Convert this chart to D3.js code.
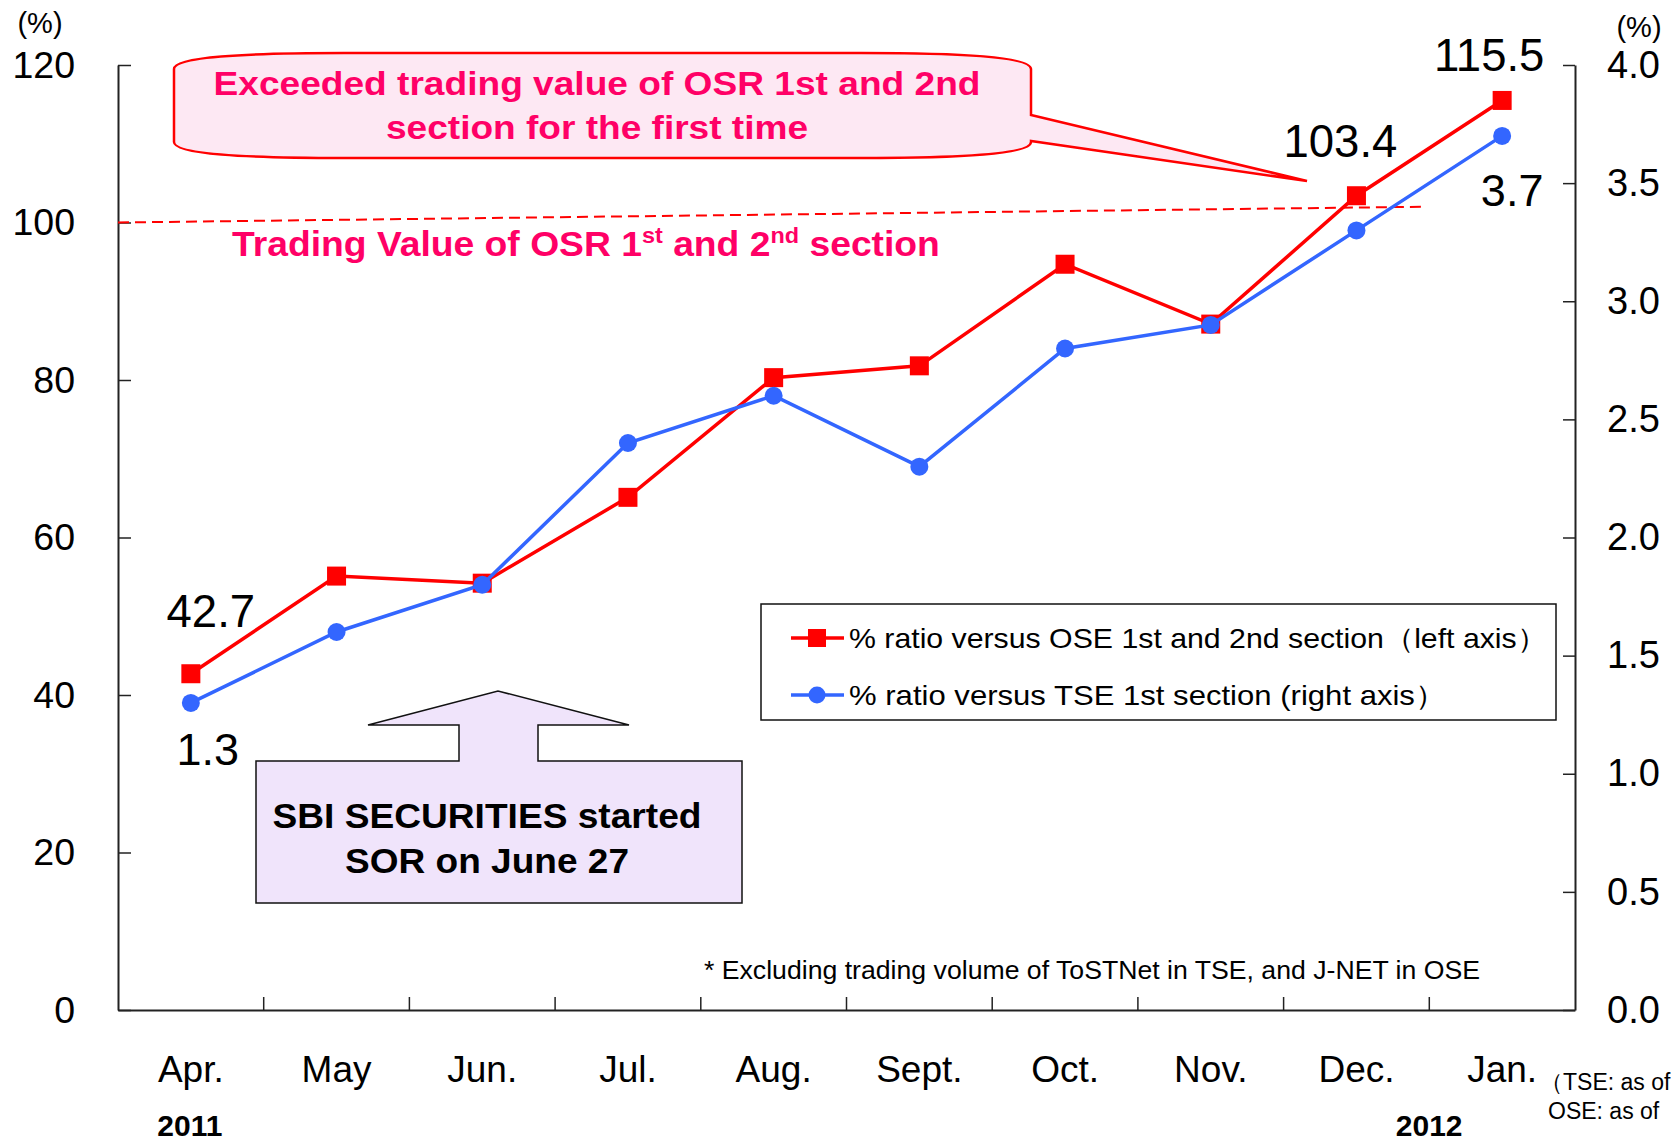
<!DOCTYPE html>
<html>
<head>
<meta charset="utf-8">
<script src="https://cdn.jsdelivr.net/npm/d3@7"></script>
<style>
  html, body { margin: 0; padding: 0; background: #fff; }
  svg { display: block; font-family: "Liberation Sans", Arial, sans-serif; }
</style>
</head>
<body>
<svg id="chart" width="1671" height="1141"></svg>
<script>
// ---------- data ----------
const months = ["Apr.", "May", "Jun.", "Jul.", "Aug.", "Sept.", "Oct.", "Nov.", "Dec.", "Jan."];
const oseRatio = [42.7, 55.1, 54.2, 65.1, 80.3, 81.8, 94.7, 87.1, 103.4, 115.5]; // left axis
const tseRatio = [1.3, 1.6, 1.8, 2.4, 2.6, 2.3, 2.8, 2.9, 3.3, 3.7];             // right axis
const leftTicks = [0, 20, 40, 60, 80, 100, 120];
const rightTicks = [0, 0.5, 1.0, 1.5, 2.0, 2.5, 3.0, 3.5, 4.0];
const oseLabelIdx = [0, 8, 9];
const tseLabelIdx = [0, 9];
const refLevel = [100, 102.0]; // dashed OSR reference line (start, end)
const seriesNames = ["% ratio versus OSE 1st and 2nd section（left axis）",
                     "% ratio versus TSE 1st section (right axis）"];
const years = ["2011", "2012"];

// ---------- layout ----------
const svg = d3.select("#chart");
const L = 118, R = 1575, T = 65, B = 1010;
const x = d3.scaleBand().domain(months).range([L, R]).padding(0);
const yL = d3.scaleLinear().domain([0, 120]).range([B, T]);
const yR = d3.scaleLinear().domain([0, 4]).range([B, T]);
const cx = d => x(d) + x.bandwidth() / 2;
const RED = "#ff0000", BLUE = "#3366ff", PINK = "#ff0066";
const FONT = "'Liberation Sans', Arial, sans-serif";

// ---------- axes ----------
const gL = svg.append("g").attr("transform", `translate(${L},0)`)
  .call(d3.axisLeft(yL).tickValues(leftTicks).tickSizeInner(-13).tickSizeOuter(0).tickPadding(43).tickFormat(d3.format("d")));
const gR = svg.append("g").attr("transform", `translate(${R},0)`)
  .call(d3.axisRight(yR).tickValues(rightTicks).tickSizeInner(-12).tickSizeOuter(0).tickPadding(32).tickFormat(d3.format(".1f")));
const gX = svg.append("g").attr("transform", `translate(0,${B})`)
  .call(d3.axisBottom(x).tickSize(0).tickPadding(46));
[gL, gR, gX].forEach(g => {
  g.selectAll(".domain").attr("stroke", "#222").attr("stroke-width", 2);
  g.selectAll(".tick line").attr("stroke", "#222").attr("stroke-width", 1.5);
  g.selectAll("text").attr("fill", "#000").style("font-family", FONT);
});
gL.selectAll("text").style("font-size", "37.5px");
gR.selectAll("text").style("font-size", "38px");
gX.selectAll("text").style("font-size", "37px");
// boundary ticks on x axis (pointing inward)
svg.append("g").selectAll("line").data(months.slice(1)).join("line")
  .attr("x1", d => x(d)).attr("x2", d => x(d))
  .attr("y1", B).attr("y2", B - 13)
  .attr("stroke", "#222").attr("stroke-width", 1.5);

// axis unit labels
svg.append("text").attr("x", 40).attr("y", 33).attr("text-anchor", "middle")
  .style("font-size", "29px").text("(%)");
svg.append("text").attr("x", 1639).attr("y", 37).attr("text-anchor", "middle")
  .style("font-size", "29px").text("(%)");

// year labels
svg.append("text").attr("x", cx(months[0]) - 1).attr("y", 1136).attr("text-anchor", "middle")
  .style("font-size", "30px").style("font-weight", "bold").text(years[0]);
svg.append("text").attr("x", cx(months[9]) - 73).attr("y", 1136).attr("text-anchor", "middle")
  .style("font-size", "30px").style("font-weight", "bold").text(years[1]);
// date note (runs past the right edge, as in the reference)
svg.append("text").attr("x", 1540).attr("y", 1090).style("font-size", "23px").text("（TSE: as of");
svg.append("text").attr("x", 1548).attr("y", 1119).style("font-size", "23px").text("OSE: as of");

// ---------- reference dashed line ----------
svg.append("line")
  .attr("x1", L).attr("y1", yL(refLevel[0]))
  .attr("x2", x(months[8]) + x.bandwidth() * 0.95).attr("y2", yL(refLevel[1]))
  .attr("stroke", RED).attr("stroke-width", 2).attr("stroke-dasharray", "11,6");

svg.append("text").attr("transform", "translate(232,256) scale(1.065,1)")
  .attr("fill", PINK).style("font-weight", "bold").style("font-size", "35px")
  .call(t => {
    t.append("tspan").text("Trading Value of OSR 1");
    t.append("tspan").attr("dy", -13).style("font-size", "22px").text("st");
    t.append("tspan").attr("dy", 13).text(" and 2");
    t.append("tspan").attr("dy", -13).style("font-size", "22px").text("nd");
    t.append("tspan").attr("dy", 13).text(" section");
  });

// ---------- callout 1 (pink) ----------
{
  const l = 174, r = 1031, t = 53, b = 158, tipX = 1307, tipY = 181;
  const p = `M${l},${t+16} C${l},${t+4} ${l+70},${t} ${l+170},${t} L${r-170},${t} C${r-70},${t} ${r},${t+4} ${r},${t+16}
             L${r},115 L${tipX},${tipY} L${r},141 L${r},${b-16}
             C${r},${b-4} ${r-70},${b} ${r-170},${b} L${l+170},${b} C${l+70},${b} ${l},${b-4} ${l},${b-16} Z`;
  svg.append("path").attr("d", p).attr("fill", "#fde8f3").attr("stroke", RED).attr("stroke-width", 2.5);
  svg.append("text").attr("x", 597).attr("y", 95).attr("text-anchor", "middle")
    .attr("fill", PINK).style("font-weight", "bold").style("font-size", "34px")
    .attr("textLength", 767).attr("lengthAdjust", "spacingAndGlyphs")
    .text("Exceeded trading value of OSR 1st and 2nd");
  svg.append("text").attr("x", 597).attr("y", 139).attr("text-anchor", "middle")
    .attr("fill", PINK).style("font-weight", "bold").style("font-size", "34px")
    .attr("textLength", 422).attr("lengthAdjust", "spacingAndGlyphs")
    .text("section for the first time");
}

// ---------- callout 2 (arrow) ----------
{
  const p = "M256,761 L459,761 L459,725 L368,725 L498,691 L629,725 L538,725 L538,761 L742,761 L742,903 L256,903 Z";
  svg.append("path").attr("d", p).attr("fill", "#f0e4fb").attr("stroke", "#111").attr("stroke-width", 1.5);
  svg.append("text").attr("x", 487).attr("y", 828).attr("text-anchor", "middle")
    .style("font-weight", "bold").style("font-size", "35px")
    .attr("textLength", 429).attr("lengthAdjust", "spacingAndGlyphs")
    .text("SBI SECURITIES started");
  svg.append("text").attr("x", 487).attr("y", 873).attr("text-anchor", "middle")
    .style("font-weight", "bold").style("font-size", "35px")
    .attr("textLength", 284).attr("lengthAdjust", "spacingAndGlyphs")
    .text("SOR on June 27");
}

// footnote
svg.append("text").attr("x", 704).attr("y", 979).style("font-size", "25px")
  .attr("textLength", 776).attr("lengthAdjust", "spacingAndGlyphs")
  .text("* Excluding trading volume of ToSTNet in TSE, and J-NET in OSE");

// ---------- series ----------
const lineL = d3.line().x((d, i) => cx(months[i])).y(d => yL(d));
const lineR = d3.line().x((d, i) => cx(months[i])).y(d => yR(d));
svg.append("path").datum(oseRatio).attr("d", lineL).attr("fill", "none").attr("stroke", RED).attr("stroke-width", 3.5);
svg.append("g").selectAll("rect").data(oseRatio).join("rect")
  .attr("x", (d, i) => cx(months[i]) - 9.5).attr("y", d => yL(d) - 9.5)
  .attr("width", 19).attr("height", 19).attr("fill", RED);
svg.append("path").datum(tseRatio).attr("d", lineR).attr("fill", "none").attr("stroke", BLUE).attr("stroke-width", 3.5);
svg.append("g").selectAll("circle").data(tseRatio).join("circle")
  .attr("cx", (d, i) => cx(months[i])).attr("cy", d => yR(d)).attr("r", 9).attr("fill", BLUE);

// data labels
const oseOff = { 0: [20, -47], 8: [-16, -39], 9: [-13, -29] };
const tseOff = { 0: [17, 62], 9: [10, 70] };
svg.append("g").selectAll("text").data(oseLabelIdx).join("text")
  .attr("x", i => cx(months[i]) + oseOff[i][0]).attr("y", i => yL(oseRatio[i]) + oseOff[i][1])
  .attr("text-anchor", "middle").style("font-size", "45.5px").text(i => oseRatio[i].toFixed(1));
svg.append("g").selectAll("text").data(tseLabelIdx).join("text")
  .attr("x", i => cx(months[i]) + tseOff[i][0]).attr("y", i => yR(tseRatio[i]) + tseOff[i][1])
  .attr("text-anchor", "middle").style("font-size", "45px").text(i => tseRatio[i].toFixed(1));

// ---------- legend ----------
{
  const lg = svg.append("g");
  lg.append("rect").attr("x", 761).attr("y", 604).attr("width", 795).attr("height", 116)
    .attr("fill", "#fff").attr("stroke", "#111").attr("stroke-width", 1.5);
  const rows = [{ y: 638, c: RED, shape: "rect", len: 698 }, { y: 695, c: BLUE, shape: "circle", len: 597 }];
  rows.forEach((r, k) => {
    lg.append("line").attr("x1", 791).attr("x2", 844).attr("y1", r.y).attr("y2", r.y)
      .attr("stroke", r.c).attr("stroke-width", 3.5);
    if (r.shape === "rect") lg.append("rect").attr("x", 817 - 9).attr("y", r.y - 9).attr("width", 18).attr("height", 18).attr("fill", r.c);
    else lg.append("circle").attr("cx", 817).attr("cy", r.y).attr("r", 8.5).attr("fill", r.c);
    lg.append("text").attr("x", 849).attr("y", r.y + 10).style("font-size", "28px")
      .attr("textLength", r.len).attr("lengthAdjust", "spacingAndGlyphs").text(seriesNames[k]);
  });
}
</script>
</body>
</html>
